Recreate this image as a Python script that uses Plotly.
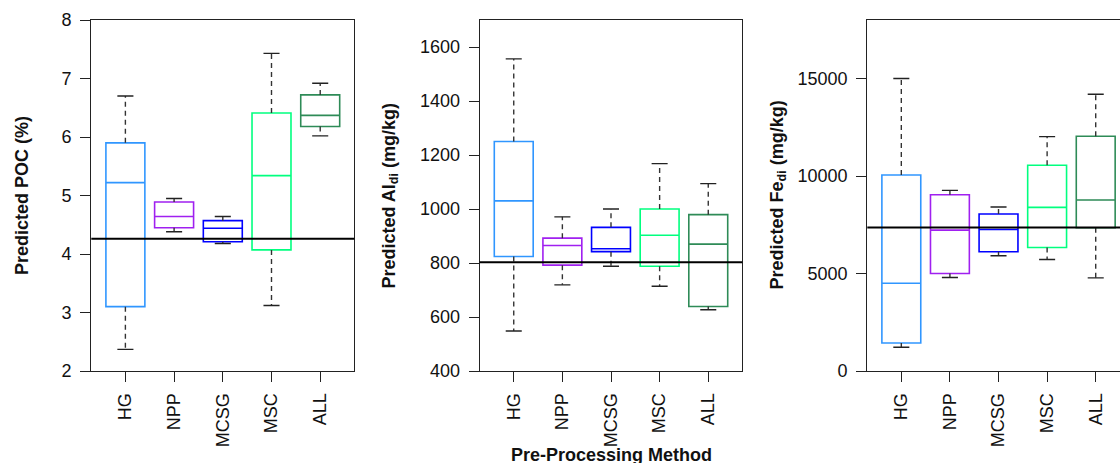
import plotly.graph_objects as go

methods = ["HG", "NPP", "MCSG", "MSC", "ALL"]
colors = ["#3096FF", "#A020F0", "#0000FF", "#00FF7F", "#2E8B57"]

# Panel 1: Predicted POC (%)
poc_lower = [2.37, 4.38, 4.18, 3.12, 6.02]
poc_q1 = [3.10, 4.45, 4.21, 4.07, 6.18]
poc_med = [5.22, 4.64, 4.44, 5.34, 6.37]
poc_q3 = [5.90, 4.89, 4.57, 6.41, 6.72]
poc_upper = [6.70, 4.95, 4.64, 7.43, 6.92]
poc_ref = 4.26
poc_ticks = [2, 3, 4, 5, 6, 7, 8]

# Panel 2: Predicted Al_di (mg/kg)
al_lower = [548, 719, 788, 714, 627]
al_q1 = [824, 792, 842, 788, 639]
al_med = [1030, 865, 853, 903, 870]
al_q3 = [1250, 892, 932, 1000, 979]
al_upper = [1556, 971, 1000, 1168, 1094]
al_ref = 803
al_ticks = [400, 600, 800, 1000, 1200, 1400, 1600]

# Panel 3: Predicted Fe_di (mg/kg)
fe_lower = [1216, 4794, 5907, 5719, 4777]
fe_q1 = [1438, 5000, 6113, 6335, 7350]
fe_med = [4503, 7226, 7260, 8390, 8767]
fe_q3 = [10051, 9041, 8048, 10548, 12037]
fe_upper = [15000, 9264, 8407, 12020, 14195]
fe_ref = 7363
fe_ticks = [0, 5000, 10000, 15000]

panels = [
    dict(lower=poc_lower, q1=poc_q1, med=poc_med, q3=poc_q3, upper=poc_upper, ref=poc_ref,
         title="Predicted POC (%)", yrange=[2, 8], ytick=poc_ticks,
         xdom=[91.3 / 1120, 354.3 / 1120], xrange=[0.3, 5.7], title_x=21.5, mirror=True),
    dict(lower=al_lower, q1=al_q1, med=al_med, q3=al_q3, upper=al_upper, ref=al_ref,
         title="Predicted Al<sub>di</sub> (mg/kg)", yrange=[400, 1700], ytick=al_ticks,
         xdom=[479.7 / 1120, 742.3 / 1120], xrange=[0.3, 5.7], title_x=390, mirror=True),
    dict(lower=fe_lower, q1=fe_q1, med=fe_med, q3=fe_q3, upper=fe_upper, ref=fe_ref,
         title="Predicted Fe<sub>di</sub> (mg/kg)", yrange=[0, 18000], ytick=fe_ticks,
         xdom=[867.3 / 1120, 1.0], xrange=[0.3, 0.3 + 252.7 / 48.6], title_x=778, mirror=False),
]

W, H = 1120, 463
ydom = [1 - 371 / H, 1 - 20 / H]
positions = [1, 2, 3, 4, 5]
FONT = "Liberation Sans, Arial, sans-serif"
box_w = 0.8
cap_half = 0.165

fig = go.Figure()
layout = dict(width=W, height=H, margin=dict(l=0, r=0, t=0, b=0, autoexpand=False),
              paper_bgcolor="white", plot_bgcolor="white", showlegend=False,
              font=dict(family=FONT, color="black"), shapes=[], annotations=[])

for k, p in enumerate(panels):
    sfx = "" if k == 0 else str(k + 1)
    xa, ya = "x" + sfx, "y" + sfx
    for i, pos in enumerate(positions):
        fig.add_trace(go.Box(
            x=[pos], q1=[p["q1"][i]], median=[p["med"][i]], q3=[p["q3"][i]],
            lowerfence=[p["q1"][i]], upperfence=[p["q3"][i]],
            width=box_w, whiskerwidth=0, boxpoints=False,
            line=dict(color=colors[i], width=1.6), fillcolor="rgba(255,255,255,0)",
            xaxis=xa, yaxis=ya, hoverinfo="skip"))
    wx, wy, cx, cy = [], [], [], []
    for i, pos in enumerate(positions):
        wx += [pos, pos, None, pos, pos, None]
        wy += [p["q3"][i], p["upper"][i], None, p["q1"][i], p["lower"][i], None]
        cx += [pos - cap_half, pos + cap_half, None, pos - cap_half, pos + cap_half, None]
        cy += [p["upper"][i], p["upper"][i], None, p["lower"][i], p["lower"][i], None]
    fig.add_trace(go.Scatter(x=wx, y=wy, mode="lines", xaxis=xa, yaxis=ya,
                             line=dict(color="#333333", width=1.4, dash="5px,4px"),
                             hoverinfo="skip"))
    fig.add_trace(go.Scatter(x=cx, y=cy, mode="lines", xaxis=xa, yaxis=ya,
                             line=dict(color="#222222", width=1.4), hoverinfo="skip"))
    layout["shapes"].append(dict(type="line", xref=xa + " domain", yref=ya, x0=0, x1=1,
                                 y0=p["ref"], y1=p["ref"], layer="above",
                                 line=dict(color="black", width=2)))
    layout["xaxis" + sfx] = dict(domain=p["xdom"], anchor=ya, range=p["xrange"],
                                 tickvals=positions, ticktext=methods, tickangle=-90,
                                 ticks="outside", ticklen=10, tickwidth=1.3, tickcolor="#222",
                                 showline=True, linecolor="#222", linewidth=1.3, mirror=True,
                                 showgrid=False, zeroline=False, ticklabelstandoff=4,
                                 automargin=False,
                                 tickfont=dict(size=18, family=FONT, color="#111"))
    layout["yaxis" + sfx] = dict(domain=ydom, anchor=xa, range=p["yrange"],
                                 tickvals=p["ytick"], ticktext=[str(t) for t in p["ytick"]],
                                 ticks="outside", ticklen=10,
                                 tickwidth=1.3, tickcolor="#222",
                                 showline=True, linecolor="#222", linewidth=1.3,
                                 mirror=p["mirror"], showgrid=False, zeroline=False,
                                 ticklabelstandoff=5, automargin=False,
                                 tickfont=dict(size=18, family=FONT, color="#111"))
    layout["annotations"].append(dict(text="<b>" + p["title"] + "</b>", xref="paper", yref="paper",
                                      x=p["title_x"] / W, y=1 - 195.5 / H, textangle=-90,
                                      xanchor="center", yanchor="middle", showarrow=False,
                                      font=dict(size=18, family=FONT, color="#111")))

layout["annotations"].append(dict(text="<b>Pre-Processing Method</b>", xref="paper", yref="paper",
                                  x=611 / W, y=1 - 455 / H, xanchor="center", yanchor="middle",
                                  showarrow=False, font=dict(size=18, family=FONT, color="#111")))

fig.update_layout(**layout)
fig.write_html("out.html")
